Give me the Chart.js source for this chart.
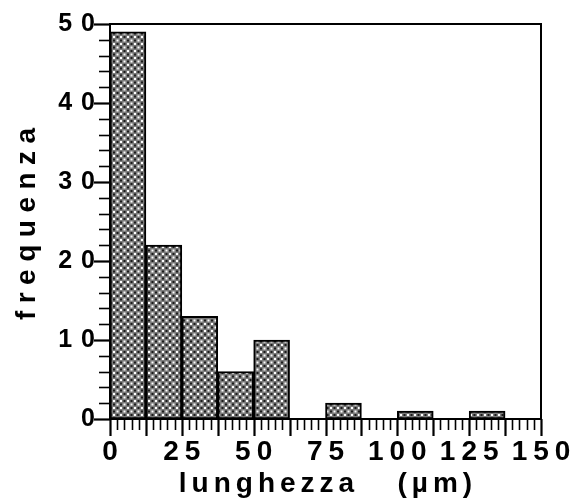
<!DOCTYPE html>
<html><head><meta charset="utf-8">
<script src="https://cdn.jsdelivr.net/npm/chart.js@4/dist/chart.umd.min.js"></script>
<style>html,body{margin:0;padding:0;background:#fff;}canvas{display:block;}</style>
</head><body>
<canvas id="c" width="576" height="502"></canvas>
<script>
// ---- data ----
const binStarts = [0, 12.5, 25, 37.5, 50, 62.5, 75, 87.5, 100, 112.5, 125, 137.5];
const binWidth = 12.5;
const counts = [49, 22, 13, 6, 10, 0, 2, 0, 1, 0, 1, 0];
const xTickValues = [0, 25, 50, 75, 100, 125, 150];
const yTickValues = [0, 10, 20, 30, 40, 50];
const xTitle = "lunghezza   (µm)";
const yTitle = "frequenza";

// ---- pattern ----
function makePattern() {
  const p = document.createElement('canvas');
  p.width = 7; p.height = 7;
  const g = p.getContext('2d');
  g.fillStyle = '#7c7c7c'; g.fillRect(0, 0, 7, 7);
  g.fillStyle = '#ffffff';
  g.fillRect(1, 1, 2, 2); g.fillRect(4.5, 4.5, 2, 2);
  g.fillStyle = '#1a1a1a';
  g.fillRect(4.5, 1, 2, 2); g.fillRect(1, 4.5, 2, 2);
  return document.getElementById('c').getContext('2d').createPattern(p, 'repeat');
}
const pattern = makePattern();

const FONT = "'Liberation Sans', Arial, sans-serif";
const X_SP = 6, Y_SP = 9;

function spacedLabels(spacing) {
  return s => {
    s.paddingLeft = s.paddingRight = s.paddingTop = s.paddingBottom = 0;
    if (s._wrapped) return;
    s._wrapped = true;
    const orig = s.drawLabels.bind(s);
    s.drawLabels = ca => { s.ctx.save(); s.ctx.letterSpacing = spacing + 'px'; orig(ca); s.ctx.restore(); };
  };
}

const decor = {
  id: 'decor',
  afterDraw(chart) {
    const ctx = chart.ctx, a = chart.chartArea, xs = chart.scales.x, ys = chart.scales.y;
    ctx.save();
    ctx.strokeStyle = '#000'; ctx.lineWidth = 2;
    ctx.beginPath();
    ctx.moveTo(a.left, a.top); ctx.lineTo(a.right, a.top); ctx.lineTo(a.right, a.bottom);
    ctx.stroke();
    for (let v = 0; v <= 150 + 1e-9; v += 2.5) {
      const px = Math.round(xs.getPixelForValue(v)) + 0.5;
      const major = Math.abs(v / binWidth - Math.round(v / binWidth)) < 1e-6;
      ctx.lineWidth = major ? 2.2 : 1.6;
      ctx.beginPath(); ctx.moveTo(px, a.bottom); ctx.lineTo(px, a.bottom + (major ? 17 : 11)); ctx.stroke();
    }
    for (let v = 0; v <= 50; v += 2) {
      const py = Math.round(ys.getPixelForValue(v)) + 0.5;
      const major = v % 10 === 0;
      ctx.lineWidth = major ? 2.2 : 1.6;
      ctx.beginPath(); ctx.moveTo(a.left, py); ctx.lineTo(a.left - (major ? 16 : 11), py); ctx.stroke();
    }
    ctx.fillStyle = '#000';
    ctx.font = `bold 28px ${FONT}`;
    ctx.textAlign = 'center'; ctx.textBaseline = 'alphabetic';
    ctx.letterSpacing = '5px';
    ctx.fillText(xTitle, (a.left + a.right) / 2 + 2.5, 492);
    ctx.translate(35, 224);
    ctx.rotate(-Math.PI / 2);
    ctx.letterSpacing = '7.5px';
    ctx.fillText(yTitle, 3.75, 0);
    ctx.restore();
  }
};

new Chart(document.getElementById('c'), {
  type: 'bar',
  data: {
    datasets: [{
      data: binStarts.map((s, i) => ({ x: s + binWidth / 2, y: counts[i] })),
      backgroundColor: pattern,
      borderColor: '#000',
      borderWidth: 2,
      borderSkipped: false,
      barPercentage: 1,
      categoryPercentage: 1
    }]
  },
  options: {
    responsive: false,
    animation: false,
    devicePixelRatio: 1,
    layout: { padding: { top: 24, right: 35, left: 0, bottom: 0 } },
    plugins: { legend: { display: false }, tooltip: { enabled: false } },
    scales: {
      x: {
        type: 'linear', offset: false, min: 0, max: 150,
        afterFit: s => { s.height = 83; spacedLabels(X_SP)(s); },
        afterBuildTicks: s => { s.ticks = xTickValues.map(v => ({ value: v })); },
        grid: { display: false, drawTicks: false, offset: false },
        border: { display: true, color: '#000', width: 2 },
        ticks: { padding: 16, labelOffset: X_SP / 2, color: '#000', maxRotation: 0, autoSkip: false,
                 font: { family: FONT, weight: 'bold', size: 28 } }
      },
      y: {
        min: 0, max: 50,
        afterFit: s => { s.width = 110; spacedLabels(Y_SP)(s); },
        afterBuildTicks: s => { s.ticks = yTickValues.map(v => ({ value: v })); },
        grid: { display: false, drawTicks: false },
        border: { display: true, color: '#000', width: 2 },
        ticks: { padding: 6, color: '#000', font: { family: FONT, weight: 'bold', size: 25 } }
      }
    }
  },
  plugins: [decor]
});
</script>
</body></html>
